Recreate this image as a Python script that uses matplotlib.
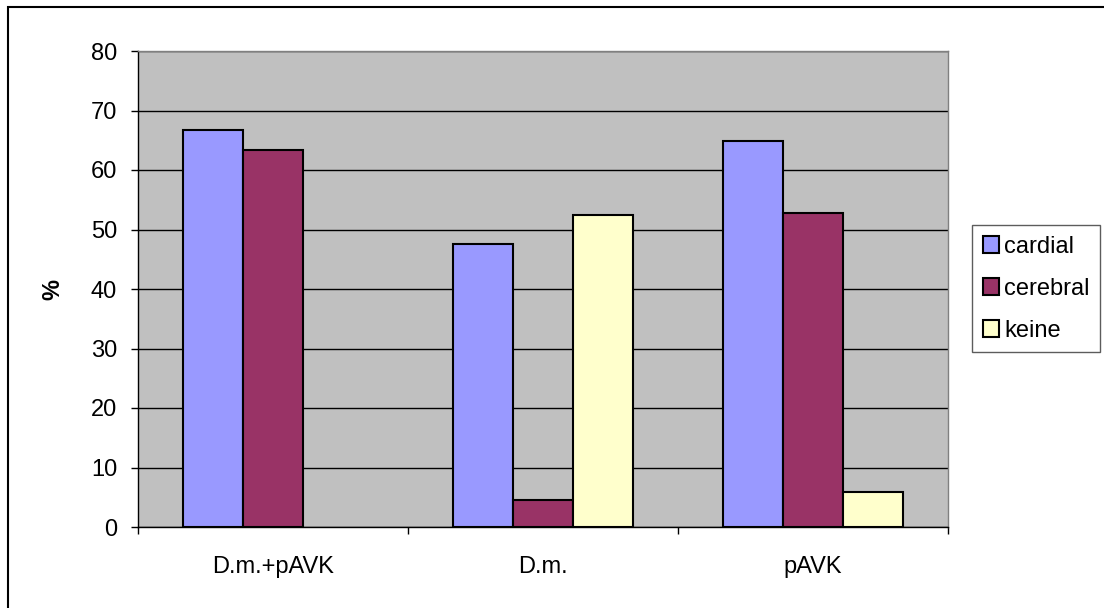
import numpy as np
import matplotlib
matplotlib.use("Agg")
import matplotlib.pyplot as plt
from matplotlib.patches import Rectangle, Patch

plt.rcParams['font.family'] = ['Liberation Sans', 'DejaVu Sans']

# percentages per group
groups = ['D.m.+pAVK', 'D.m.', 'pAVK']
cardial = [66.7, 47.6, 64.9]
cerebral = [63.3, 4.5, 52.8]
keine = [0.0, 52.4, 5.9]

series = ['cardial', 'cerebral', 'keine']
colors = ['#9999FF', '#993366', '#FFFFCC']

fig = plt.figure(figsize=(11.04, 6.08), dpi=100)
ax = fig.add_axes([138 / 1104, 1 - 527 / 608, 810 / 1104, 476 / 608])

x = np.arange(len(groups))
w = 0.222
for i, (vals, col) in enumerate(zip([cardial, cerebral, keine], colors)):
    # zero values get no visible bar outline
    widths = [1.5 if v > 0 else 0 for v in vals]
    ax.bar(x + (i - 1) * w, vals, width=w, color=col, edgecolor='black',
           linewidth=widths, zorder=3)

ax.set_facecolor('#C0C0C0')
ax.set_xlim(-0.5, 2.5)
ax.set_ylim(0, 80)
ax.set_yticks(np.arange(0, 81, 10))
ax.yaxis.grid(True, color='black', linewidth=1, zorder=1)
ax.set_axisbelow(True)

ax.set_xticks(x)
ax.set_xticklabels(groups)
ax.set_xticks([0.5, 1.5, 2.5, -0.5], minor=True)
ax.tick_params(axis='x', which='major', length=0, pad=21, labelsize=17)
ax.tick_params(axis='x', which='minor', length=5, width=1, direction='out')
ax.tick_params(axis='y', length=5, width=1, direction='out', pad=10, labelsize=17)

for side in ['top', 'right']:
    ax.spines[side].set_color('#808080')
    ax.spines[side].set_linewidth(1)
for side in ['left', 'bottom']:
    ax.spines[side].set_color('black')
    ax.spines[side].set_linewidth(1)

ax.set_ylabel('%', fontsize=17, fontweight='bold', labelpad=19)

handles = [Patch(facecolor=c, edgecolor='black', linewidth=1.5) for c in colors]
leg = fig.legend(handles, series, loc='upper left',
                 bbox_to_anchor=(972 / 1104, 1 - 225 / 608),
                 fontsize=17, frameon=True, fancybox=False, edgecolor='#333333',
                 handlelength=0.7, handleheight=0.7, handletextpad=0.2,
                 labelspacing=0.85, borderpad=0.45, borderaxespad=0)
leg.get_frame().set_linewidth(1)

# outer chart frame (only left and top edges fall inside the image)
fig.patches.append(Rectangle((8 / 1104, -0.2), 1.2, 1.2 - 7 / 608, transform=fig.transFigure,
                             fill=False, edgecolor='black', linewidth=1.5))

fig.savefig('out.png', dpi=100)
